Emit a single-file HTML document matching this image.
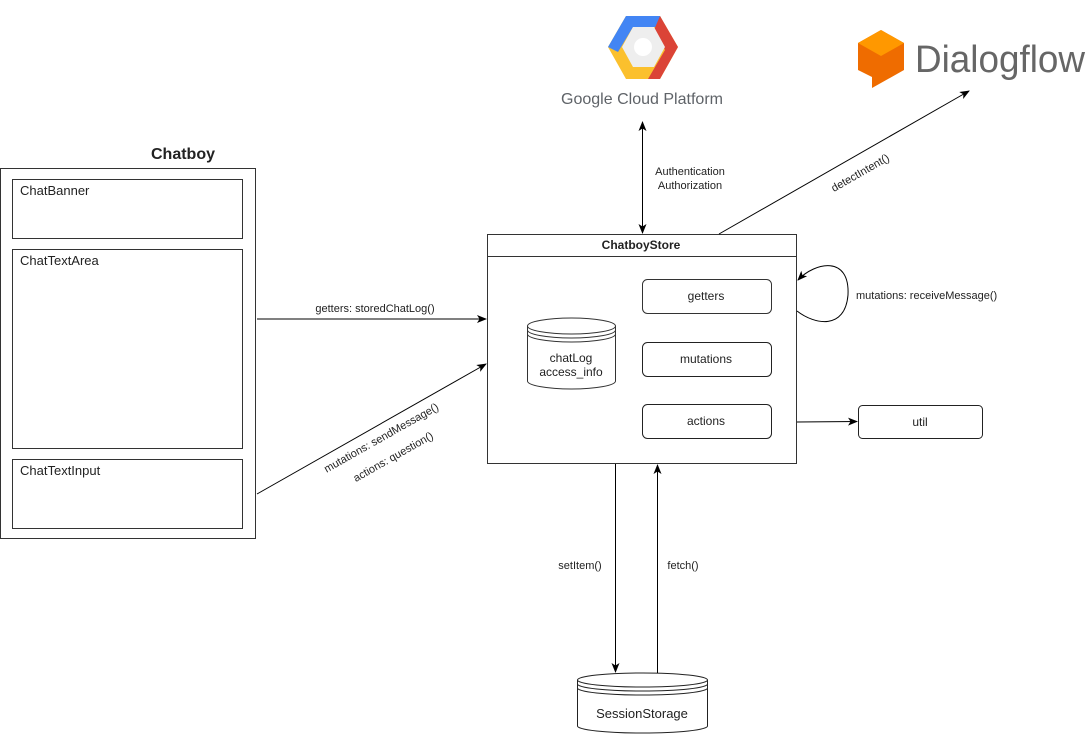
<!DOCTYPE html>
<html><head><meta charset="utf-8"><style>
html,body{margin:0;padding:0;background:#fff;width:1088px;height:735px;overflow:hidden}
svg{display:block}
text{font-family:"Liberation Sans",Arial,sans-serif;fill:#222}
</style></head><body>
<svg width="1088" height="735" viewBox="0 0 1088 735" xmlns="http://www.w3.org/2000/svg">
<defs>
<marker id="a" viewBox="0 0 10 10" refX="9" refY="5" markerWidth="10" markerHeight="10" orient="auto-start-reverse" markerUnits="userSpaceOnUse"><path d="M0,1 L10,5 L0,9 L2.5,5 Z" fill="#000"/></marker>
</defs>
<!-- GCP logo -->
<polygon points="626,16 660,16 678,47 660,79 626,79 608,47" fill="#fbc02d"/>
<polygon points="626,16 660,16 666,27 633,27 618,52 608,47" fill="#4285f4"/>
<polygon points="660,16 678,47 660,79 648,79 665,50 654,30" fill="#db4437"/>
<polygon points="633,27 654,27 665,47 654,67 633,67 622,47" fill="#eee"/>
<circle cx="643" cy="47" r="9" fill="#fff"/>
<text x="561" y="104" font-size="16" textLength="162" lengthAdjust="spacingAndGlyphs" style="fill:#5f6368">Google Cloud Platform</text>
<!-- Dialogflow logo -->
<polygon points="881,30 904,43 904,70 872,88 872,77 858,70 858,43" fill="#ef6c00"/>
<polygon points="881,30 904,43 881,56 858,43" fill="#ff9800"/>
<text x="915" y="72" font-size="38" textLength="170" lengthAdjust="spacingAndGlyphs" style="fill:#666">Dialogflow</text>
<!-- Chatboy -->
<text x="183" y="159" font-size="16" font-weight="bold" text-anchor="middle">Chatboy</text>
<rect x="0.5" y="168.5" width="255" height="370" fill="none" stroke="#333"/>
<rect x="12.5" y="179.5" width="230" height="59" fill="none" stroke="#333"/>
<rect x="12.5" y="249.5" width="230" height="199" fill="none" stroke="#333"/>
<rect x="12.5" y="459.5" width="230" height="69" fill="none" stroke="#333"/>
<text x="20" y="195" font-size="13">ChatBanner</text>
<text x="20" y="265" font-size="13">ChatTextArea</text>
<text x="20" y="475" font-size="13">ChatTextInput</text>
<!-- Store -->
<rect x="487.5" y="234.5" width="309" height="229" fill="#fff" stroke="#333"/>
<line x1="487" y1="256.5" x2="797" y2="256.5" stroke="#333"/>
<text x="641" y="249" font-size="12" font-weight="bold" text-anchor="middle">ChatboyStore</text>
<rect x="642.5" y="279.5" width="129" height="34" rx="5" fill="#fff" stroke="#333"/>
<rect x="642.5" y="342.5" width="129" height="34" rx="5" fill="#fff" stroke="#222"/>
<rect x="642.5" y="404.5" width="129" height="34" rx="5" fill="#fff" stroke="#222"/>
<text x="706" y="300" font-size="12" text-anchor="middle">getters</text>
<text x="706" y="363" font-size="12" text-anchor="middle">mutations</text>
<text x="706" y="425" font-size="12" text-anchor="middle">actions</text>
<!-- chatLog cylinder -->
<path d="M527.5,326 L527.5,381 A44,8 0 0 0 615.5,381 L615.5,326" fill="#fff" stroke="#333"/>
<ellipse cx="571.5" cy="326" rx="44" ry="8" fill="#fff" stroke="#333"/>
<path d="M527.5,330 A44,8 0 0 0 615.5,330 M527.5,334 A44,8 0 0 0 615.5,334" fill="none" stroke="#333"/>
<text x="571" y="362" font-size="12" text-anchor="middle">chatLog</text>
<text x="571" y="376" font-size="12" text-anchor="middle">access_info</text>
<!-- util -->
<rect x="858.5" y="405.5" width="124" height="33" rx="4" fill="#fff" stroke="#222"/>
<text x="920" y="426" font-size="12" text-anchor="middle">util</text>
<!-- SessionStorage -->
<path d="M577.5,680 L577.5,726 A65,7 0 0 0 707.5,726 L707.5,680" fill="#fff" stroke="#222"/>
<ellipse cx="642.5" cy="680" rx="65" ry="7" fill="#fff" stroke="#222"/>
<path d="M577.5,684 A65,7 0 0 0 707.5,684 M577.5,688 A65,7 0 0 0 707.5,688" fill="none" stroke="#222"/>
<text x="642" y="718" font-size="13" text-anchor="middle">SessionStorage</text>
<!-- connectors -->
<line x1="257" y1="319" x2="486" y2="319" stroke="#000" marker-end="url(#a)"/>
<text x="375" y="312" font-size="11" text-anchor="middle">getters: storedChatLog()</text>
<line x1="257" y1="494" x2="486" y2="364" stroke="#000" marker-end="url(#a)"/>
<text transform="translate(383,441) rotate(-29.5)" font-size="11" text-anchor="middle">mutations: sendMessage()</text>
<text transform="translate(395,460) rotate(-29.5)" font-size="11" text-anchor="middle">actions: question()</text>
<line x1="642.5" y1="122" x2="642.5" y2="233" stroke="#000" marker-start="url(#a)" marker-end="url(#a)"/>
<text x="690" y="175" font-size="11" text-anchor="middle">Authentication</text>
<text x="690" y="189" font-size="11" text-anchor="middle">Authorization</text>
<line x1="719" y1="234" x2="969" y2="91" stroke="#000" marker-end="url(#a)"/>
<text transform="translate(862,176) rotate(-29.8)" font-size="11" text-anchor="middle">detectIntent()</text>
<path d="M797,311 C815,325 845,330 848,295 C850,255 815,262 798,280" fill="none" stroke="#000" marker-end="url(#a)"/>
<text x="856" y="299" font-size="11">mutations: receiveMessage()</text>
<line x1="797" y1="422" x2="857" y2="421.5" stroke="#000" marker-end="url(#a)"/>
<line x1="615.5" y1="464" x2="615.5" y2="672" stroke="#000" marker-end="url(#a)"/>
<line x1="657.5" y1="673" x2="657.5" y2="465" stroke="#000" marker-end="url(#a)"/>
<text x="580" y="569" font-size="11" text-anchor="middle">setItem()</text>
<text x="683" y="569" font-size="11" text-anchor="middle">fetch()</text>
</svg>
</body></html>
